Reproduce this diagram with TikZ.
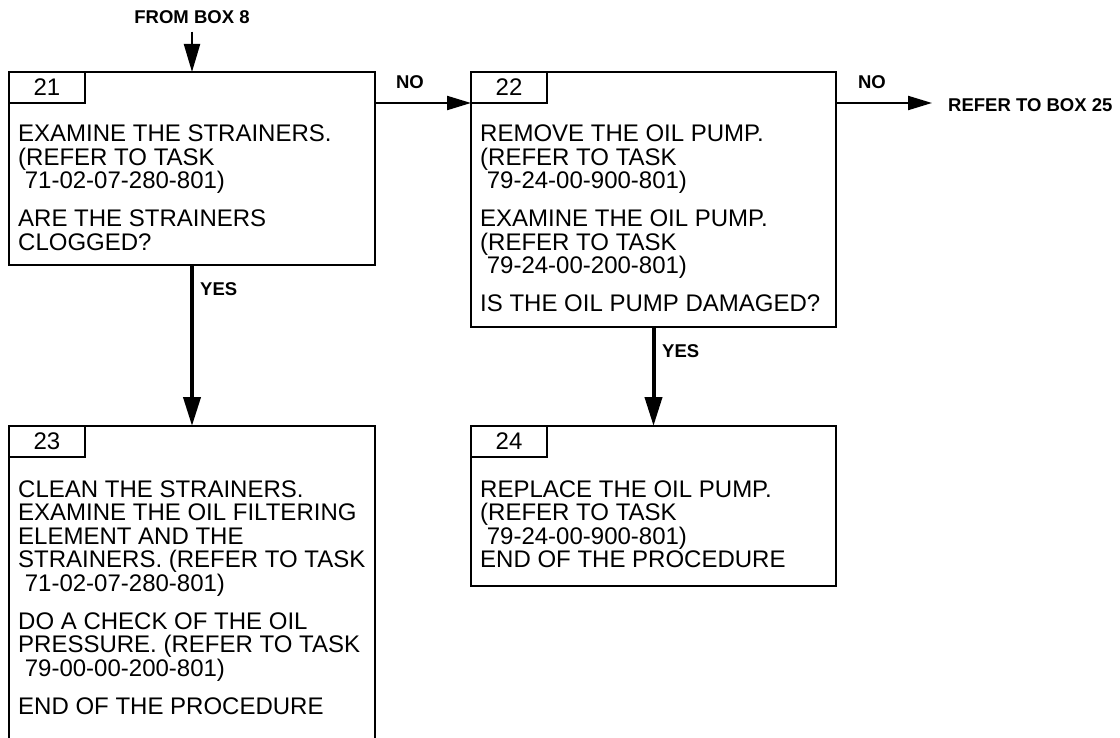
\documentclass[tikz,border=0pt]{standalone}
\usepackage{fontspec}
\setmainfont{Liberation Sans}
\newfontfamily\bodyfam{Liberation Sans}
\usetikzlibrary{arrows.meta,calc}
\tikzset{
  boxst/.style={draw, line width=2.2pt, rectangle, outer sep=0pt, inner sep=0pt, anchor=north west},
  tabst/.style={draw, line width=2.2pt, rectangle, outer sep=0pt, inner sep=0pt, anchor=north west,
    minimum width=76pt, minimum height=31pt, font=\bodyfam\fontsize{24}{26}\selectfont},
  txt/.style={anchor=base west, inner sep=0pt, font=\bodyfam\fontsize{24}{26}\selectfont},
  lbl/.style={inner sep=0pt, font=\bfseries\fontsize{18.5}{20}\selectfont},
  thin/.style={line width=2.2pt, -{Triangle[length=24pt,width=14pt]}},
  thick/.style={line width=4pt, -{Triangle[length=29pt,width=17pt]}},
}
\begin{document}
\begin{tikzpicture}[x=1pt,y=-1pt]
\clip (0,0) rectangle (1120,738);
\fill[white] (0,0) rectangle (1120,738);
% boxes
\node[boxst, minimum width=366pt, minimum height=193pt] (b21) at (9,72) {};
\node[boxst, minimum width=365pt, minimum height=255pt] (b22) at (471,72) {};
\node[boxst, minimum width=366pt, minimum height=330pt] (b23) at (9,426) {};
\node[boxst, minimum width=365pt, minimum height=160pt] (b24) at (471,426) {};
% tabs
\node[tabst] (t21) at (b21.north west) {21};
\node[tabst] (t22) at (b22.north west) {22};
\node[tabst] (t23) at (b23.north west) {23};
\node[tabst] (t24) at (b24.north west) {24};
% texts
\foreach \y/\t [count=\i] in {142/{EXAMINE THE STRAINERS.}, 165.5/{(REFER TO TASK}, 189/{\ 71-02-07-280-801)}, 227/{ARE THE STRAINERS}, 250.5/{CLOGGED?}}
  \node[txt] (a\i) at (18,\y) {\t};
\foreach \y/\t [count=\i] in {142/{REMOVE THE OIL PUMP.}, 165.5/{(REFER TO TASK}, 189/{\ 79-24-00-900-801)}, 227/{EXAMINE THE OIL PUMP.}, 250.5/{(REFER TO TASK}, 274/{\ 79-24-00-200-801)}, 311.5/{IS THE OIL PUMP DAMAGED?}}
  \node[txt] (c\i) at (480,\y) {\t};
\foreach \y/\t [count=\i] in {497/{CLEAN THE STRAINERS.}, 520.5/{EXAMINE THE OIL FILTERING}, 544/{ELEMENT AND THE}, 567.5/{STRAINERS. (REFER TO TASK}, 591/{\ 71-02-07-280-801)}, 629/{DO A CHECK OF THE OIL}, 652.5/{PRESSURE. (REFER TO TASK}, 676/{\ 79-00-00-200-801)}, 714/{END OF THE PROCEDURE}}
  \node[txt] (d\i) at (18,\y) {\t};
\foreach \y/\t [count=\i] in {497/{REPLACE THE OIL PUMP.}, 520.5/{(REFER TO TASK}, 544/{\ 79-24-00-900-801)}, 567.5/{END OF THE PROCEDURE}}
  \node[txt] (e\i) at (480,\y) {\t};
% labels
\node[lbl] (from) at (192,17) {FROM BOX 8};
\node[lbl] (no1) at (410,82) {NO};
\node[lbl] (no2) at (872,82) {NO};
\node[lbl, anchor=west] (yes1) at (200,289) {YES};
\node[lbl, anchor=west] (yes2) at (662,351) {YES};
\node[lbl, anchor=west] (ref25) at (948,105) {REFER TO BOX 25};
\coordinate (c25) at (932,103);
% connectors
\draw[line width=2.2pt, -{Triangle[length=28pt,width=16pt]}] (from.south) ++(0,8) -- (b21.north);
\draw[thin] (b21.east |- t21.south) -- (b22.west |- t22.south);
\draw[thin] (b22.east |- t22.south) -- (c25);
\draw[thick] (b21.south) -- (b23.north);
\draw[thick] (b22.south) -- (b24.north);
\end{tikzpicture}
\end{document}
